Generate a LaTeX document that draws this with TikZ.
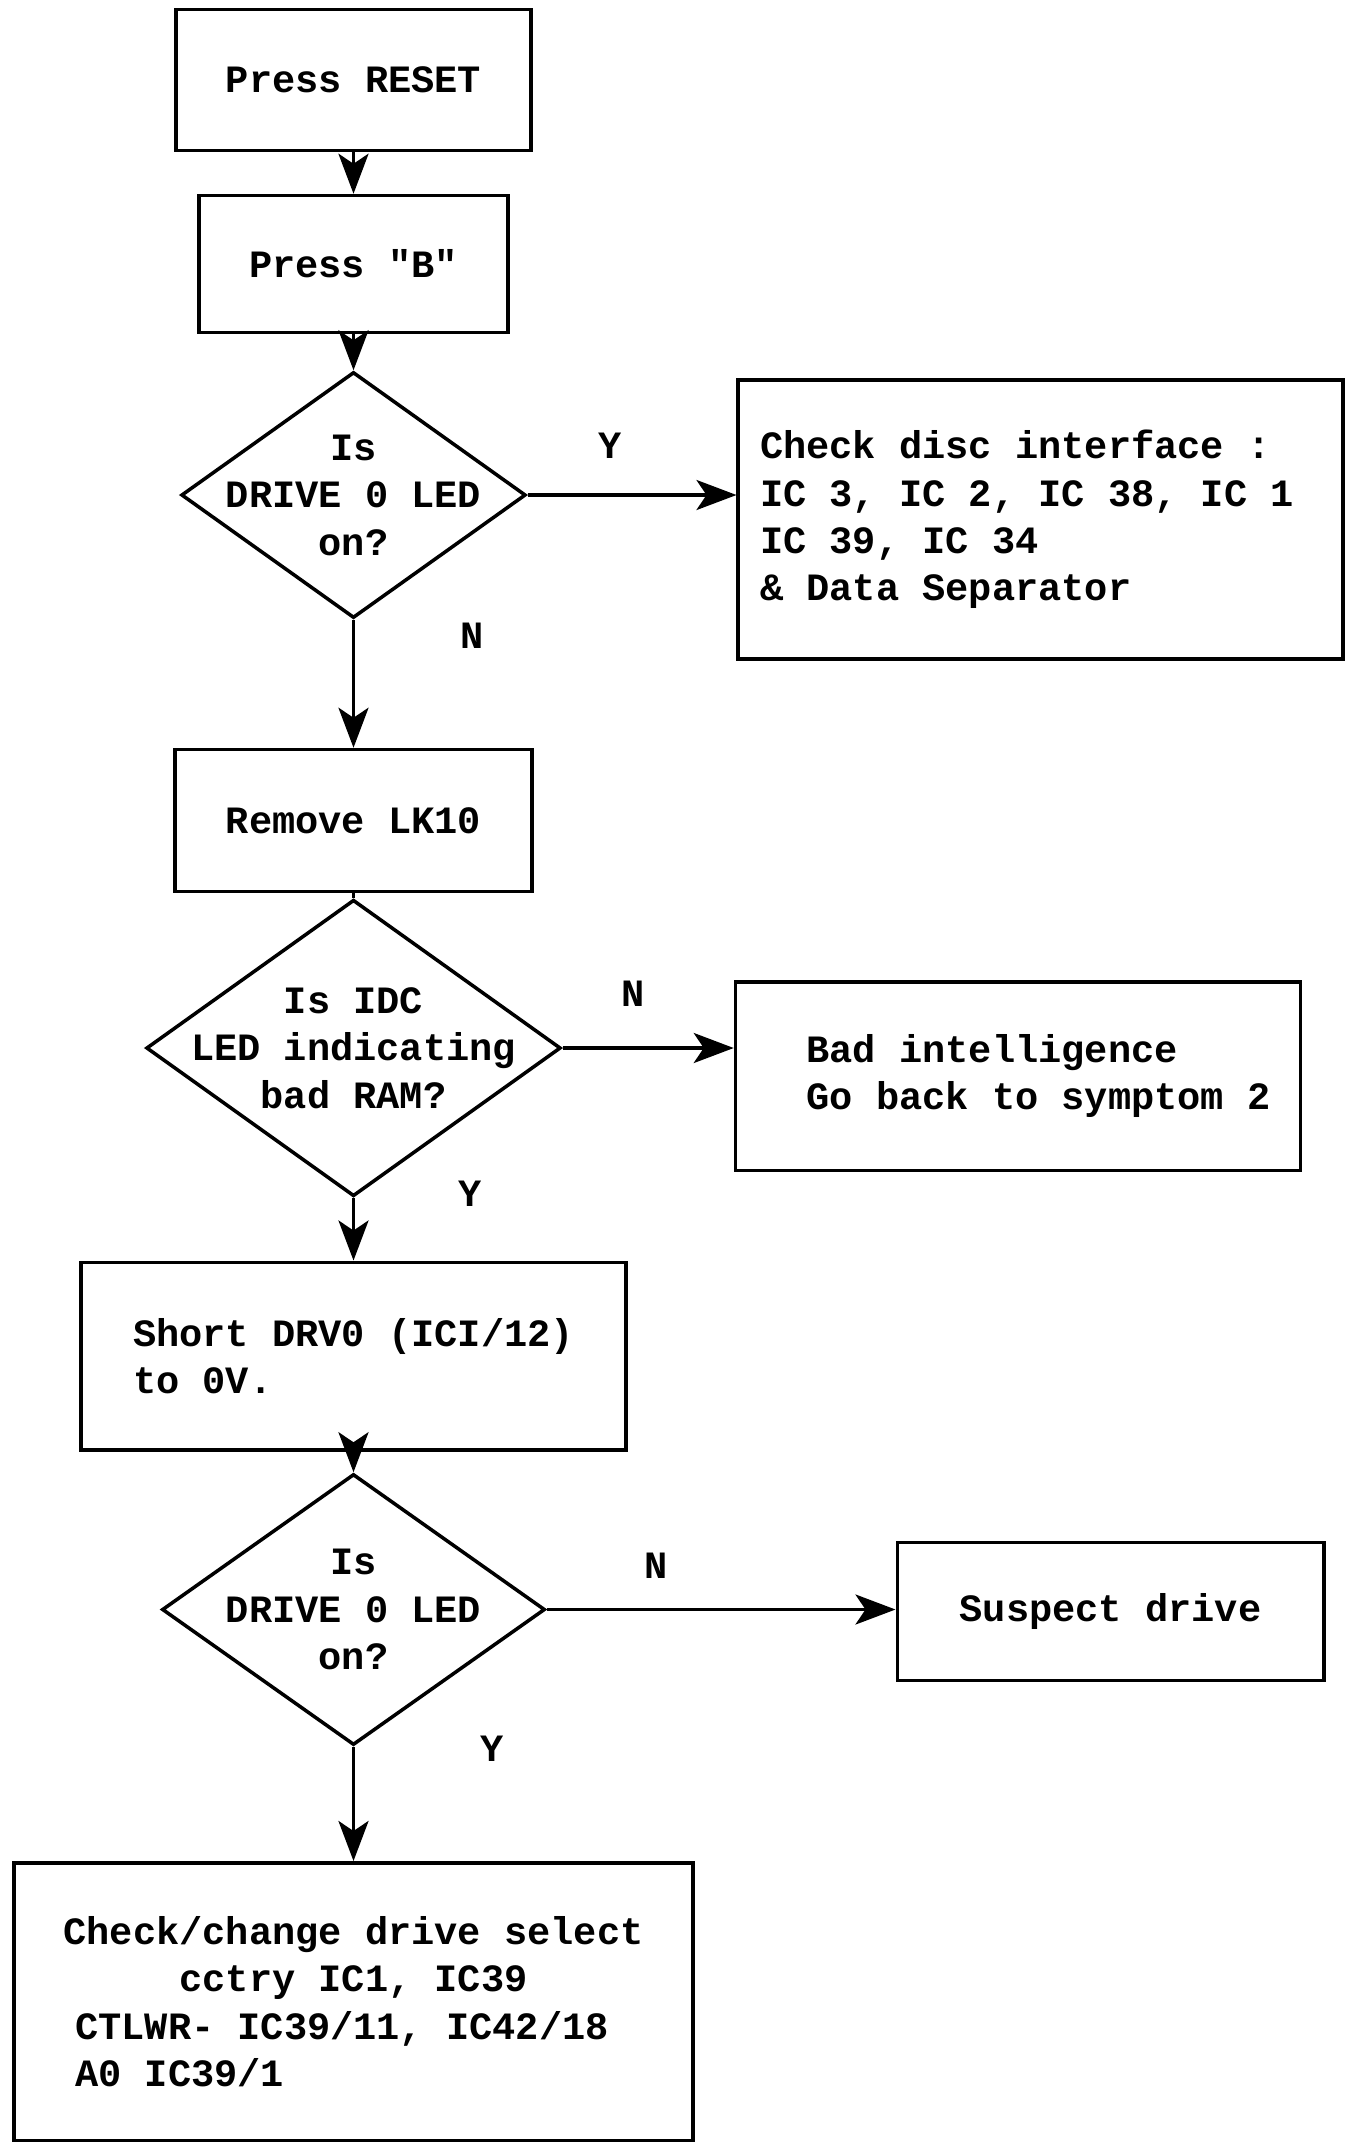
\documentclass[tikz,border=0pt]{standalone}
\usepackage{fontspec}
\setmonofont{Liberation Mono}
\usetikzlibrary{shapes.geometric,arrows.meta}

\begin{document}
\begin{tikzpicture}[
        every node/.style={font=\ttfamily\bfseries\fontsize{22}{27}\selectfont},
        stepbox/.style={draw, rectangle, line width=2pt, inner sep=0pt},
        decision/.style={draw, diamond, line width=2pt, inner sep=0pt},
        flow/.style={draw, line width=2pt, -{Stealth[length=8mm,width=6mm,inset=2mm]}},
        tag/.style={inner sep=0pt}
    ]
        \useasboundingbox (0,0) rectangle (26.94,-42.88);

        % main column
        \node[stepbox, minimum width=7.11cm, minimum height=2.82cm] (reset) at (7.07,-1.60) {Press RESET};
        \node[stepbox, minimum width=6.18cm, minimum height=2.74cm] (pressb) at (7.07,-5.28) {Press "B"};
        \node[decision, minimum width=6.89cm, minimum height=4.92cm,
              label={[align=center]center:{Is\\DRIVE 0 LED\\on?}}] (drive1) at (7.07,-9.90) {};
        \node[stepbox, minimum width=7.14cm, minimum height=2.84cm] (remove) at (7.07,-16.41) {Remove LK10};
        \node[decision, minimum width=8.29cm, minimum height=5.93cm,
              label={[align=center]center:{Is IDC\\LED indicating\\bad RAM?}}] (idc) at (7.07,-20.96) {};
        \node[stepbox, minimum width=10.89cm, minimum height=3.75cm, align=left] (short) at (7.07,-27.12) {Short DRV0 (ICI/12)\\to 0V.};
        \node[decision, minimum width=7.66cm, minimum height=5.42cm,
              label={[align=center]center:{Is\\DRIVE 0 LED\\on?}}] (drive2) at (7.07,-32.19) {};
        \node[stepbox, minimum width=13.59cm, minimum height=5.55cm, align=center] (check) at (7.07,-40.03)
            {Check/change drive select\\cctry IC1, IC39\\
             \makebox[11.13cm][l]{CTLWR- IC39/11, IC42/18}\\\makebox[11.13cm][l]{A0 IC39/1}};

        % side boxes
        \node[stepbox, minimum width=12.09cm, minimum height=5.58cm,
              label={[anchor=west, xshift=0.465cm, align=left, inner sep=0pt]west:{Check disc interface :\\IC 3, IC 2, IC 38, IC 1\\IC 39, IC 34\\\& Data Separator}}] (disc) at (20.81,-10.39) {};
        \node[stepbox, minimum width=11.30cm, minimum height=3.77cm,
              label={[anchor=west, xshift=1.45cm, align=left, inner sep=0pt]west:{Bad intelligence\\Go back to symptom 2}}] (badint) at (20.36,-21.52) {};
        \node[stepbox, minimum width=8.53cm, minimum height=2.76cm] (suspect) at (22.21,-32.23) {Suspect drive};

        % answers
        \node[tag] (y1) at (12.20,-8.92) {Y};
        \node[tag] (n1) at (9.44,-12.72) {N};
        \node[tag] (n2) at (12.66,-19.88) {N};
        \node[tag] (y2) at (9.41,-23.88) {Y};
        \node[tag] (n3) at (13.13,-31.32) {N};
        \node[tag] (y3) at (9.85,-34.98) {Y};

        \path[flow] (reset) -- (pressb);
        \path[flow] (pressb) -- (drive1);
        \path[flow] (drive1.east) -- (drive1.east -| disc.west);
        \path[flow] (drive1) -- (remove);
        \path[draw, line width=2pt] (remove) -- (idc);
        \path[flow] (idc.east) -- (idc.east -| badint.west);
        \path[flow] (idc) -- (short);
        \path[flow] (short) -- (drive2);
        \path[flow] (drive2.east) -- (drive2.east -| suspect.west);
        \path[flow] (drive2) -- (check);
    \end{tikzpicture}
\end{document}
